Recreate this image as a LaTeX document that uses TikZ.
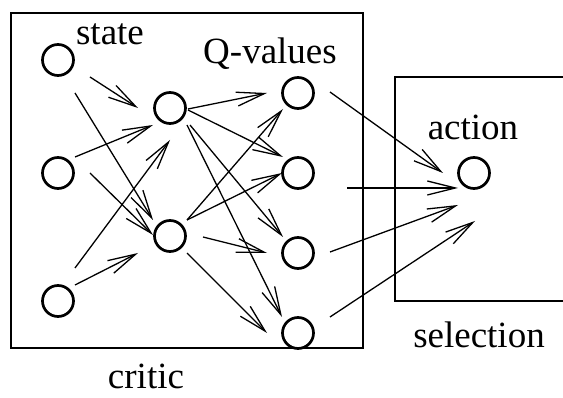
\documentclass[tikz,border=0pt]{standalone}
\usepackage{fontspec}
\setmainfont{Liberation Serif}
\usetikzlibrary{arrows.meta}

\begin{document}
\begin{tikzpicture}[x=1pt, y=-1pt,
  unit/.style={draw, circle, line width=2.7pt, minimum size=31pt, inner sep=0pt},
  arr/.style={-{Straight Barb[length=28pt,width=14pt]}, line width=1.3pt},
  lbl/.style={font=\fontsize{37}{40}\selectfont, inner sep=0pt, anchor=base},
  box/.style={draw, line width=1.8pt}]
\clip (0,0) rectangle (563,398);
% frames
\draw[box] (11,13) rectangle (363,348);
\draw[box] (395,77) rectangle (590,301);
% units
\node[unit] (s1) at (58,60) {};
\node[unit] (s2) at (58,173) {};
\node[unit] (s3) at (58,301) {};
\node[unit] (h1) at (170,108) {};
\node[unit] (h2) at (170,236) {};
\node[unit] (q1) at (298,93) {};
\node[unit] (q2) at (298,173) {};
\node[unit] (q3) at (298,253) {};
\node[unit] (q4) at (298,333) {};
\node[unit] (act) at (474,173) {};
% labels
\node[lbl] (lstate) at (110,45) {state};
\node[lbl] (lqval) at (270,64) {Q-values};
\node[lbl] (laction) at (473,140) {action};
\node[lbl] (lsel) at (479,348) {selection};
\node[lbl] (lcritic) at (146,389) {critic};
% state to hidden
\draw[arr] ([shift={(32,17)}]s1.center) -- ([shift={(-32,0)}]h1.center);
\draw[arr] ([shift={(17,33)}]s1.center) -- ([shift={(-17,-16)}]h2.center);
\draw[arr] ([shift={(17,-16)}]s2.center) -- ([shift={(-17,17)}]h1.center);
\draw[arr] ([shift={(32,0)}]s2.center) -- ([shift={(-17,-1)}]h2.center);
\draw[arr] ([shift={(17,-33)}]s3.center) -- ([shift={(0,32)}]h1.center);
\draw[arr] ([shift={(17,-16)}]s3.center) -- ([shift={(-32,17)}]h2.center);
% hidden to Q
\draw[arr] ([shift={(18,1)}]h1.center) -- ([shift={(-31,0)}]q1.center);
\draw[arr] ([shift={(18,2)}]h1.center) -- ([shift={(-15,-16)}]q2.center);
\draw[arr] ([shift={(20,17)}]h1.center) -- ([shift={(-15,-16)}]q3.center);
\draw[arr] ([shift={(17,17)}]h1.center) -- ([shift={(-16,-16)}]q4.center);
\draw[arr] ([shift={(17,-16)}]h2.center) -- ([shift={(-15,16)}]q1.center);
\draw[arr] ([shift={(17,-16)}]h2.center) -- ([shift={(-16,0)}]q2.center);
\draw[arr] ([shift={(33,1)}]h2.center) -- ([shift={(-31,0)}]q3.center);
\draw[arr] ([shift={(17,17)}]h2.center) -- ([shift={(-31,0)}]q4.center);
% Q to action
\draw[arr] ([shift={(32,-1)}]q1.center) -- ([shift={(-31,0)}]act.center);
\draw[arr] ([shift={(49,15)}]q2.center) -- ([shift={(-16,15)}]act.center);
\draw[arr] ([shift={(32,-1)}]q3.center) -- ([shift={(-16,32)}]act.center);
\draw[arr] ([shift={(32,-16)}]q4.center) -- ([shift={(1,48)}]act.center);
\end{tikzpicture}
\end{document}
